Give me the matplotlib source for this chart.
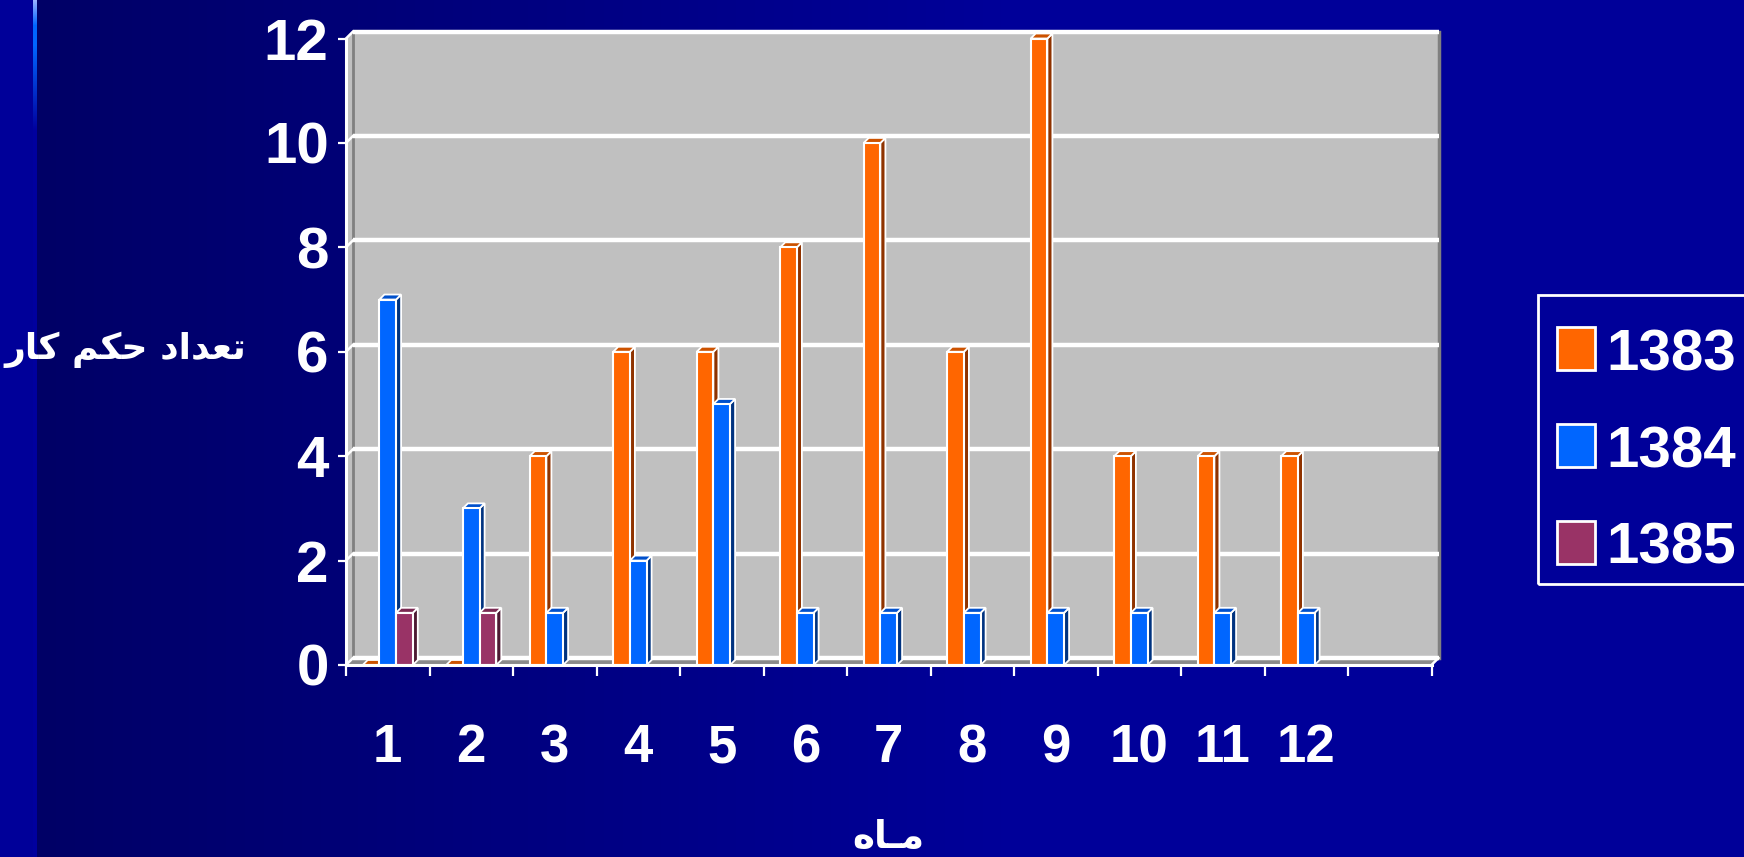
import numpy as np
import matplotlib
matplotlib.use("Agg")
import matplotlib.pyplot as plt
from matplotlib.patches import Polygon, Rectangle
from matplotlib import font_manager

# monthly counts per year (None = no bar)
months = ["1", "2", "3", "4", "5", "6", "7", "8", "9", "10", "11", "12", ""]
years = ["1383", "1384", "1385"]
counts_1383 = [0, 0, 4, 6, 6, 8, 10, 6, 12, 4, 4, 4, None]
counts_1384 = [7, 3, 1, 2, 5, 1, 1, 1, 1, 1, 1, 1, None]
counts_1385 = [1, 1, None, None, None, None, None, None, None, None, None, None, None]
series = [counts_1383, counts_1384, counts_1385]

# front / side / top colours for each year
front = ["#FF6600", "#0066FF", "#993366"]
side = ["#8F3300", "#003380", "#4D1A33"]
top = ["#CC5200", "#0050CC", "#7A2952"]

# narrow bold face if there is one, plain Liberation otherwise (sizes shrink a bit)
installed = {f.name for f in font_manager.fontManager.ttflist}
num_font, y_size, x_size, leg_size = "Liberation Sans", 42, 38, 42
for cand in ["Liberation Sans Narrow", "Arial Narrow"]:
    if cand in installed:
        num_font, y_size, x_size, leg_size = cand, 48, 43, 48
        break

W_PX, H_PX = 1744, 857
fig = plt.figure(figsize=(W_PX / 100, H_PX / 100), dpi=100)

# slide background: dark navy getting bluer to the right, lighter strip on the left
xs = np.arange(W_PX)
t = np.clip((xs - 37) / (1000 - 37), 0, 1)
blue = 0x66 + t * (0x99 - 0x66)
img = np.zeros((H_PX, W_PX, 3))
img[:, :, 2] = blue[None, :] / 255
img[:, :33, 2] = 0x99 / 255
line = np.zeros((H_PX, 3))
for y in range(H_PX):
    if y < 25:
        k = y / 25
        line[y] = np.array([0.60, 0.70, 1.0]) * (1 - k) + np.array([0.0, 0.40, 1.0]) * k
    elif y < 45:
        line[y] = [0.0, 0.40, 1.0]
    elif y < 130:
        k = (y - 45) / 85
        line[y] = np.array([0.0, 0.40, 1.0]) * (1 - k) + np.array([0.0, 0.0, 0.62]) * k
    else:
        line[y] = [0.0, 0.0, 0.62]
img[:, 33:37, :] = line[:, None, :]

bg = fig.add_axes([0, 0, 1, 1], zorder=0)
bg.imshow(img, aspect="auto", extent=[0, W_PX, H_PX, 0], interpolation="nearest")
bg.set_xlim(0, W_PX)
bg.set_ylim(H_PX, 0)
bg.axis("off")

# front plane of the chart in pixels
x0, y0 = 346, 665
slot = 83.5
unit_y = (665 - 38.5) / 12
n = len(months)
ax = fig.add_axes([x0 / W_PX, (H_PX - y0) / H_PX, n * slot / W_PX, 12 * unit_y / H_PX], zorder=1)
ax.set_xlim(0, n)
ax.set_ylim(0, 12)
ax.patch.set_visible(False)

# depth offsets in data units
wx, wy = 7 / slot, 7 / unit_y      # back wall
bx, by = 5 / slot, 5 / unit_y      # bar depth

wall = Polygon([(wx, wy), (n + wx, wy), (n + wx, 12 + wy), (wx, 12 + wy)],
               closed=True, fc="#C0C0C0", ec="none", zorder=1, clip_on=False)
ax.add_patch(wall)
side_wall = Polygon([(0, 0), (wx, wy), (wx, 12 + wy), (0, 12)],
                    closed=True, fc="#C0C0C0", ec="none", zorder=1, clip_on=False)
ax.add_patch(side_wall)
ax.plot([wx, wx], [wy, 12 + wy], color="#808080", lw=2, zorder=2, clip_on=False)
ax.plot([n + wx, n + wx], [wy, 12 + wy], color="#808080", lw=2.5, zorder=2, clip_on=False)
floor = Polygon([(0, 0), (n, 0), (n + wx, wy), (wx, wy)],
                closed=True, fc="#8A8A8A", ec="none", zorder=2, clip_on=False)
ax.add_patch(floor)

for v in range(0, 13, 2):
    ax.plot([wx, n + wx], [v + wy, v + wy], color="white", lw=3.2, zorder=2.5,
            clip_on=False, solid_capstyle="butt")
    ax.plot([0, wx], [v, v + wy], color="white", lw=1.8, zorder=2.5, clip_on=False)
ax.plot([n, n + wx], [0, wy], color="white", lw=1.8, zorder=2.5, clip_on=False)

# 3D-looking bars
bw = 0.2
for j, vals in enumerate(series):
    for i, v in enumerate(vals):
        if v is None:
            continue
        xl = i + 0.5 + (j - 1) * bw - bw / 2
        xr = xl + bw
        z = 3 + j * 0.1 + i * 0.01
        ax.add_patch(Polygon([(xr, 0), (xr + bx, by), (xr + bx, v + by), (xr, v)],
                             closed=True, fc=side[j], ec="white", lw=1.3, zorder=z, clip_on=False))
        ax.add_patch(Polygon([(xl, v), (xl + bx, v + by), (xr + bx, v + by), (xr, v)],
                             closed=True, fc=top[j], ec="white", lw=1.3, zorder=z, clip_on=False))
        ax.add_patch(Rectangle((xl, 0), bw, v, fc=front[j], ec="white", lw=1.5,
                               zorder=z + 0.005, clip_on=False))

# axes lines and ticks
for s in ["top", "right"]:
    ax.spines[s].set_visible(False)
for s in ["left", "bottom"]:
    ax.spines[s].set_color("white")
    ax.spines[s].set_linewidth(2.2)
    ax.spines[s].set_zorder(4)

ax.set_yticks(range(0, 13, 2))
ax.set_yticklabels([str(v) for v in range(0, 13, 2)])
ax.tick_params(axis="y", colors="white", length=6, width=1.6, pad=6.5, labelsize=y_size)
ax.set_xticks(range(0, n + 1))
ax.set_xticklabels([])
ax.tick_params(axis="x", which="major", colors="white", length=8, width=1.6, direction="out")
ax.set_xticks(np.arange(n) + 0.5, minor=True)
ax.set_xticklabels(months, minor=True)
ax.tick_params(axis="x", which="minor", length=0, pad=42, labelsize=x_size, colors="white")
for lab in ax.get_yticklabels() + ax.get_xticklabels(minor=True):
    lab.set_fontfamily(num_font)
    lab.set_fontweight("bold")

# axis titles (Arabic script written in presentation forms, visual order)
ylab = "\uFEAD\uFE8E\uFEDB \uFEE2\uFEDC\uFEA3 \uFEA9\uFE8D\uFEAA\uFECC\uFE97"
xlab = "\uFEE9\uFE8E\u0640\uFEE3"
fig.text(125 / W_PX, 1 - 350 / H_PX, ylab, color="white", fontsize=26, fontweight="bold",
         family="DejaVu Sans", ha="center", va="center")
fig.text(888 / W_PX, 1 - 838 / H_PX, xlab, color="white", fontsize=27, fontweight="bold",
         family="DejaVu Sans", ha="center", va="center")

# legend box
lx0, ly0, lx1, ly1 = 1538, 295, 1770, 584
fig.patches.append(Rectangle((lx0 / W_PX, 1 - ly1 / H_PX), (lx1 - lx0) / W_PX, (ly1 - ly0) / H_PX,
                             transform=fig.transFigure, fill=False, ec="white", lw=2, zorder=5))
rows = [348, 445, 542]
for j, name in enumerate(years):
    c = rows[j]
    fig.patches.append(Rectangle((1557 / W_PX, 1 - (c + 22) / H_PX), 38 / W_PX, 43 / H_PX,
                                 transform=fig.transFigure, fc=front[j], ec="white", lw=2, zorder=5))
    fig.text(1606 / W_PX, 1 - (c + 22) / H_PX, name, color="white", fontsize=leg_size,
             fontweight="bold", family=num_font, ha="left", va="baseline")

fig.savefig("out.png", dpi=100)
